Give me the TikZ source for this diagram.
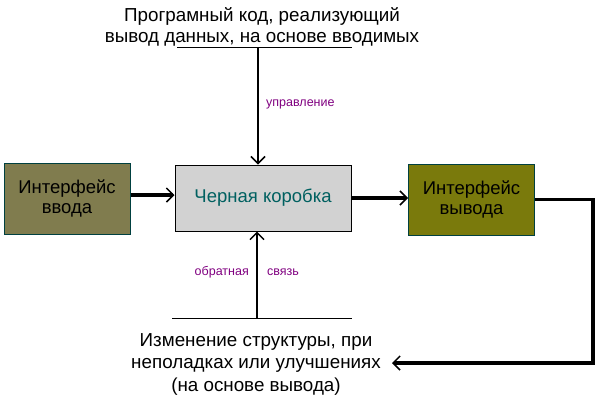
\documentclass[tikz,border=0pt]{standalone}
\usepackage{fontspec}
\setmainfont{Liberation Sans}
\usetikzlibrary{arrows.meta}
\definecolor{leftfill}{RGB}{128,124,78}
\definecolor{rightfill}{RGB}{122,122,12}
\definecolor{midfill}{RGB}{210,210,210}
\definecolor{boxedge}{RGB}{0,64,64}
\definecolor{tealtext}{RGB}{0,96,96}
\definecolor{labelpurple}{RGB}{128,0,128}
\begin{document}
\begin{tikzpicture}[x=1pt,y=-1pt,
  sidebox/.style={draw=boxedge,line width=1pt,minimum width=126pt,minimum height=71pt,inner sep=0pt,align=center,font=\fontsize{18.5}{20}\selectfont},
  midbox/.style={draw=black,line width=1pt,fill=midfill,minimum width=176pt,minimum height=66pt,inner sep=0pt,font=\fontsize{18.5}{20}\selectfont,text=tealtext},
  bigtext/.style={align=center,inner sep=0pt},
  smalllabel/.style={font=\fontsize{12.5}{14}\selectfont,text=labelpurple,inner sep=0pt},
  flow/.style={line width=3.5pt,-{Straight Barb[length=7pt,width=14pt,line width=1.5pt]}},
  ctrl/.style={line width=2.5pt,-{Straight Barb[length=7pt,width=14pt,line width=1.5pt]}},
  rule/.style={line width=1pt}]
\useasboundingbox (0,0) rectangle (601,397);
\node[sidebox,fill=leftfill] (in) at (67,198.5) {Интерфейс\\ввода};
\node[midbox] (box) at (263,198) {Черная коробка};
\node[sidebox,fill=rightfill] (out) at (471.5,199.5) {Интерфейс\\вывода};
\node[bigtext,anchor=base,font=\fontsize{18.8}{21}\selectfont] (top) at (262,42) {Програмный код, реализующий\\вывод данных, на основе вводимых};
\node[bigtext,anchor=base,font=\fontsize{18.8}{22.5}\selectfont] (bot) at (256,391) {Изменение структуры, при\\неполадках или улучшениях\\(на основе вывода)};
\coordinate (tl) at (177,47);
\coordinate (tr) at (352,47);
\coordinate (tm) at (258,47);
\coordinate (bl) at (172,318);
\coordinate (br) at (352,318);
\coordinate (bm) at (257,318);
\coordinate (c1) at (593,199.5);
\coordinate (c2) at (593,363);
\coordinate (tip) at (392,363);
\draw[rule] (tl) -- (tr);
\draw[rule] (bl) -- (br);
\draw[ctrl] (tm) -- (box.north -| tm);
\draw[ctrl] (bm) -- (box.south -| bm);
\draw[flow] (in.east |- 0,195) -- (box.west |- 0,195);
\draw[flow] (box.east |- 0,198) -- (out.west |- 0,198);
\draw[line width=3.5pt,-{Straight Barb[length=7pt,width=14pt,line width=1.5pt]}] (out.east |- c1) -- (c1) -- (c2) -- (tip);
\node[smalllabel,anchor=west] (upr) at (266,104) {управление};
\node[smalllabel,anchor=east] (obr) at (249,272) {обратная};
\node[smalllabel,anchor=west] (svz) at (267,272) {связь};
\end{tikzpicture}
\end{document}
